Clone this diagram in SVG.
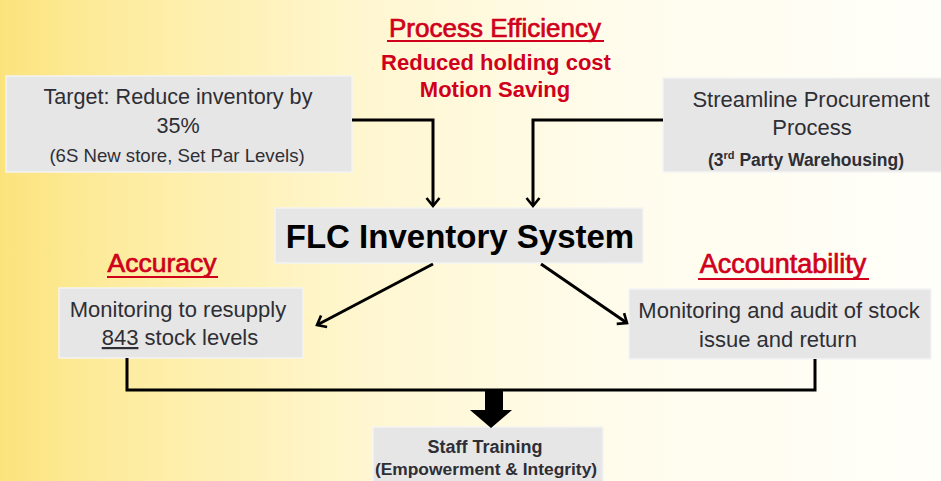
<svg xmlns="http://www.w3.org/2000/svg" width="941" height="481" viewBox="0 0 941 481">
<defs>
<linearGradient id="bg" x1="0" y1="0" x2="1" y2="0">
<stop offset="0" stop-color="#FBE37C"/>
<stop offset="0.12" stop-color="#FDEC9E"/>
<stop offset="0.4" stop-color="#FFF7D2"/>
<stop offset="0.65" stop-color="#FFFCEC"/>
<stop offset="1" stop-color="#FFFFFA"/>
</linearGradient>
<marker id="ah" markerUnits="userSpaceOnUse" markerWidth="20" markerHeight="20" refX="0" refY="0" viewBox="-10 -10 20 20" orient="auto" overflow="visible">
<path d="M-8,-6.5 L0,0 L-8,6.5" fill="none" stroke="#000" stroke-width="2.6"/>
</marker>
<style>
.box{fill:#E6E6E6;stroke:#F3F3F3;stroke-width:1.5}
.t{font-family:"Liberation Sans",Arial,sans-serif;fill:#2E2E35;text-anchor:middle}
.r{font-family:"Liberation Sans",Arial,sans-serif;fill:#D0001C;text-anchor:middle}
.h{stroke:#D0001C;stroke-width:0.7}
.c{fill:none;stroke:#000;stroke-width:3}
</style>
</defs>
<rect x="0" y="0" width="941" height="481" fill="url(#bg)"/>

<g id="title">
<text class="r h" x="495" y="37" font-size="26">Process Efficiency</text>
<rect x="387" y="40" width="217" height="2" fill="#D0001C"/>
<text class="r" x="496" y="70" font-size="22" font-weight="bold">Reduced holding cost</text>
<text class="r" x="495" y="97" font-size="22" font-weight="bold">Motion Saving</text>
</g>

<g id="target">
<rect class="box" x="6" y="76" width="346" height="96"/>
<text class="t" x="178" y="104" font-size="21.6">Target: Reduce inventory by</text>
<text class="t" x="178" y="133" font-size="21.6">35%</text>
<text class="t" x="177" y="162" font-size="18.6">(6S New store, Set Par Levels)</text>
</g>

<g id="streamline">
<rect class="box" x="663" y="78" width="279" height="94"/>
<text class="t" x="811" y="107" font-size="22">Streamline Procurement</text>
<text class="t" x="812" y="135" font-size="22">Process</text>
<text class="t" x="806" y="166" font-size="17.5" font-weight="bold">(3<tspan font-size="11" dy="-7">rd</tspan><tspan dy="7"> Party Warehousing)</tspan></text>
</g>

<g id="flc">
<rect class="box" x="275" y="208" width="368" height="55"/>
<text x="460" y="248" font-size="33" font-weight="bold" font-family="Liberation Sans, Arial, sans-serif" text-anchor="middle" fill="#000">FLC Inventory System</text>
</g>

<g id="accuracy">
<text class="r h" x="162" y="272" font-size="26.5">Accuracy</text>
<rect x="107" y="276" width="111" height="2" fill="#D0001C"/>
<rect class="box" x="59" y="288" width="244" height="70"/>
<text class="t" x="178" y="317" font-size="22">Monitoring to resupply</text>
<text class="t" x="180" y="345" font-size="22"><tspan text-decoration="underline">843</tspan> stock levels</text>
</g>

<g id="accountability">
<text class="r h" x="783" y="273" font-size="27">Accountability</text>
<rect x="698" y="278" width="171" height="2" fill="#D0001C"/>
<rect class="box" x="629" y="289" width="302" height="70"/>
<text class="t" x="779" y="318" font-size="22">Monitoring and audit of stock</text>
<text class="t" x="778" y="347" font-size="22">issue and return</text>
</g>

<g id="staff">
<rect class="box" x="373" y="427" width="230" height="56"/>
<text class="t" x="485" y="453" font-size="18" font-weight="bold">Staff Training</text>
<text class="t" x="486" y="475" font-size="17.4" font-weight="bold">(Empowerment &amp; Integrity)</text>
</g>

<g id="connectors">
<path class="c" d="M352,120 H433 V206" marker-end="url(#ah)"/>
<path class="c" d="M663,120 H533 V206" marker-end="url(#ah)"/>
<path class="c" d="M433,264 L317,325" marker-end="url(#ah)"/>
<path class="c" d="M541,264 L627,323" marker-end="url(#ah)"/>
<path class="c" d="M127,358 V390 H815 V359"/>
<polygon points="485,390 503,390 503,410 512,410 491,428 470,410 485,410" fill="#000"/>
</g>
</svg>
